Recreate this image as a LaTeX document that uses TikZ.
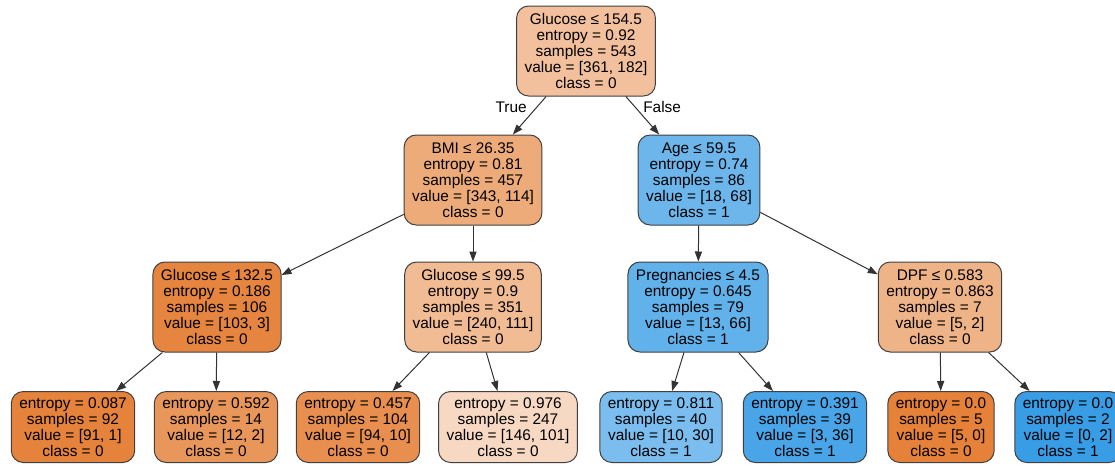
\documentclass[tikz,border=0pt]{standalone}
\usepackage{fontspec}
\setmainfont{Liberation Sans}
\usepackage{xcolor}
\usetikzlibrary{arrows.meta}
\definecolor{clszero}{RGB}{229,129,57}
\definecolor{clsone}{RGB}{57,157,229}

\begin{document}
\begin{tikzpicture}[
    x=0.5pt, y=-0.5pt,
    >={Triangle[length=5pt, width=3.6pt]},
    every node/.style={font=\fontsize{7.7}{8}\selectfont},
    treenode/.style={draw=black!75, line width=0.5pt, rounded corners=6pt,
                     align=center, inner xsep=4pt, inner ysep=1pt},
    split/.style={treenode, minimum height=45pt},
    leaf/.style={treenode, minimum height=35.5pt},
    edge/.style={->, draw=black!80, line width=0.5pt},
]
\useasboundingbox (0,0) rectangle (1115,466);
\clip (0,0) rectangle (1115,466);
% root
\node[split, fill=clszero!50] (root) at (586,51)
      {Glucose ≤ 154.5\\entropy = 0.92\\samples = 543\\value = [361, 182]\\class = 0};
% depth 1
\node[split, fill=clszero!67] (bmi) at (473,180)
      {BMI ≤ 26.35\\entropy = 0.81\\samples = 457\\value = [343, 114]\\class = 0};
\node[split, fill=clsone!74] (age) at (699,180)
      {Age ≤ 59.5\\entropy = 0.74\\samples = 86\\value = [18, 68]\\class = 1};
% depth 2
\node[split, fill=clszero!97] (glulow) at (217,307)
      {Glucose ≤ 132.5\\entropy = 0.186\\samples = 106\\value = [103, 3]\\class = 0};
\node[split, fill=clszero!54] (glumid) at (473,307)
      {Glucose ≤ 99.5\\entropy = 0.9\\samples = 351\\value = [240, 111]\\class = 0};
\node[split, fill=clsone!80] (preg) at (698,307)
      {Pregnancies ≤ 4.5\\entropy = 0.645\\samples = 79\\value = [13, 66]\\class = 1};
\node[split, fill=clszero!60] (dpf) at (940,307)
      {DPF ≤ 0.583\\entropy = 0.863\\samples = 7\\value = [5, 2]\\class = 0};
% leaves
\node[leaf, fill=clszero!99] (leafa) at (73,427)
      {entropy = 0.087\\samples = 92\\value = [91, 1]\\class = 0};
\node[leaf, fill=clszero!83] (leafb) at (216,427)
      {entropy = 0.592\\samples = 14\\value = [12, 2]\\class = 0};
\node[leaf, fill=clszero!89] (leafc) at (358,427)
      {entropy = 0.457\\samples = 104\\value = [94, 10]\\class = 0};
\node[leaf, fill=clszero!31] (leafd) at (508,427)
      {entropy = 0.976\\samples = 247\\value = [146, 101]\\class = 0};
\node[leaf, fill=clsone!67] (leafe) at (661,427)
      {entropy = 0.811\\samples = 40\\value = [10, 30]\\class = 1};
\node[leaf, fill=clsone!92] (leaff) at (805,427)
      {entropy = 0.391\\samples = 39\\value = [3, 36]\\class = 1};
\node[leaf, fill=clszero] (leafg) at (941,427)
      {entropy = 0.0\\samples = 5\\value = [5, 0]\\class = 0};
\node[leaf, fill=clsone] (leafh) at (1068,427)
      {entropy = 0.0\\samples = 2\\value = [0, 2]\\class = 1};
% edges
\draw[edge] (root) -- node[pos=0.28, left=1.5pt]{True} (bmi);
\draw[edge] (root) -- node[pos=0.28, right=0.5pt]{False} (age);
\draw[edge] (bmi) -- (glulow);
\draw[edge] (bmi) -- (glumid);
\draw[edge] (age) -- (preg);
\draw[edge] (age) -- (dpf);
\draw[edge] (glulow) -- (leafa);
\draw[edge] (glulow) -- (leafb);
\draw[edge] (glumid) -- (leafc);
\draw[edge] (glumid) -- (leafd);
\draw[edge] (preg) -- (leafe);
\draw[edge] (preg) -- (leaff);
\draw[edge] (dpf) -- (leafg);
\draw[edge] (dpf) -- (leafh);
\end{tikzpicture}
\end{document}
